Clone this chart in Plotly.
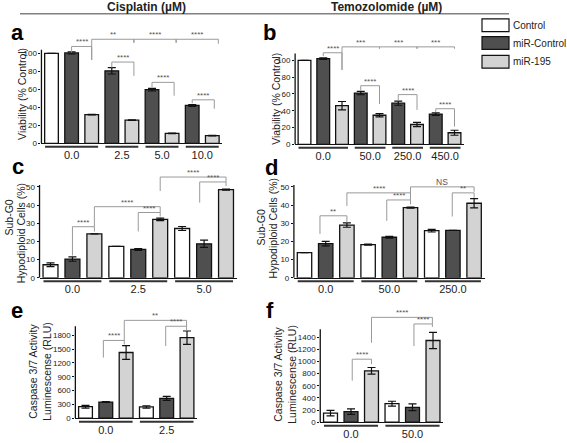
import plotly.graph_objects as go

W, H = 567, 443
FONT = "Liberation Sans, Arial, Helvetica, sans-serif"

series_names = ["Control", "miR-Control", "miR-195"]
series_colors = ["#ffffff", "#4f4f4f", "#d3d3d3"]

# ---------------- data ----------------
a_groups = ["0.0", "2.5", "5.0", "10.0"]
a_control = [100.0, None, None, None]
a_control_err = [0.0, None, None, None]
a_mirc = [100.5, 80.6, 59.7, 42.2]
a_mirc_err = [1.2, 3.5, 1.5, 1.0]
a_mir195 = [32.0, 25.8, 11.2, 8.5]
a_mir195_err = [0.3, 0.4, 0.3, 0.3]
a_yticks = [0, 20, 40, 60, 80, 100]

b_groups = ["0.0", "50.0", "250.0", "450.0"]
b_control = [100.0, None, None, None]
b_control_err = [0.0, None, None, None]
b_mirc = [102.0, 61.0, 49.0, 36.0]
b_mirc_err = [1.0, 2.0, 2.5, 1.5]
b_mir195 = [46.0, 34.6, 23.6, 13.8]
b_mir195_err = [5.0, 2.0, 2.5, 3.0]
b_yticks = [0, 20, 40, 60, 80, 100]

c_groups = ["0.0", "2.5", "5.0"]
c_control = [7.2, 17.3, 27.1]
c_control_err = [1.0, 0.0, 1.1]
c_mirc = [10.3, 15.6, 18.7]
c_mirc_err = [1.2, 0.5, 2.0]
c_mir195 = [24.2, 32.1, 48.5]
c_mir195_err = [0.0, 0.7, 0.3]
c_yticks = [0, 10, 20, 30, 40, 50]

d_groups = ["0.0", "50.0", "250.0"]
d_control = [13.9, 18.3, 25.9]
d_control_err = [0.0, 0.3, 0.7]
d_mirc = [18.8, 22.3, 26.1]
d_mirc_err = [1.2, 0.5, 0.0]
d_mir195 = [29.0, 38.6, 41.0]
d_mir195_err = [1.2, 0.3, 2.5]
d_yticks = [0, 10, 20, 30, 40, 50]

e_groups = ["0.0", "2.5"]
e_control = [250.0, 245.0]
e_control_err = [30.0, 25.0]
e_mirc = [350.0, 430.0]
e_mirc_err = [8.0, 45.0]
e_mir195 = [1425.0, 1745.0]
e_mir195_err = [150.0, 145.0]
e_yticks = [0, 300, 600, 900, 1200, 1500, 1800]

f_groups = ["0.0", "50.0"]
f_control = [150.0, 305.0]
f_control_err = [45.0, 40.0]
f_mirc = [175.0, 245.0]
f_mirc_err = [45.0, 55.0]
f_mir195 = [845.0, 1345.0]
f_mir195_err = [55.0, 135.0]
f_yticks = [0, 200, 400, 600, 800, 1000, 1200, 1400]

# significance brackets: (x_left, x_right, y_line, y_left_end, y_right_end, label)
a_brackets = [
    (1, 2, 107.7, 100.8, 92.6, "****"),
    (2, 4.1, 115.7, 92.6, 111.8, "**"),
    (4.1, 6.2, 115.7, 111.8, 111.8, "****"),
    (6.2, 8.3, 115.7, 111.8, 110.7, "****"),
    (3, 4.1, 90.4, 84.3, 75.0, "****"),
    (5, 6.1, 67.8, 62.5, 53.0, "****"),
    (7, 8.1, 48.4, 44.5, 38.5, "****"),
]
b_brackets = [
    (1, 2, 109.0, 105.0, 88.6, "****"),
    (2, 4, 116.0, 88.6, 113.8, "***"),
    (4, 6, 116.0, 113.8, 113.8, "***"),
    (6, 8, 116.0, 113.8, 113.8, "***"),
    (3, 4, 69.8, 63.9, 48.0, "****"),
    (5, 6, 59.2, 52.0, 41.0, "****"),
    (7, 8, 42.4, 38.5, 21.0, "****"),
]
c_brackets = [
    (1, 2, 28.1, 12.3, 25.4, "****"),
    (4, 5, 35.9, 25.5, 33.7, "****"),
    (2, 5, 39.1, 28.1, 35.9, "****"),
    (6.8, 8, 52.7, 41.3, 50.4, "****"),
    (5, 8, 55.4, 47.7, 52.7, "****"),
]
d_brackets = [
    (0.73, 2, 34.1, 24.1, 30.4, "**"),
    (2, 5, 46.7, 39.5, 42.8, "****"),
    (3.88, 5, 42.8, 31.3, 40.4, "****"),
    (5, 8, 50.0, 42.8, 47.3, "NS"),
    (6.97, 8, 46.7, 33.7, 44.0, "**"),
]
e_brackets = [
    (0.88, 1.91, 1686, 1314, 1600, "****"),
    (3.95, 4.98, 1993, 1564, 1900, "****"),
    (1.91, 4.98, 2121, 1686, 1993, "**"),
]
f_brackets = [
    (1.06, 2.0, 1037, 684, 955, "****"),
    (4.07, 4.97, 1617, 1253, 1568, "****"),
    (2.0, 4.97, 1726, 1307, 1617, "****"),
]

# ---------------- layout helpers ----------------
def PX(p):
    return p / W


def PY(p):
    return 1 - p / H


panels = [
    dict(letter="a", groups=a_groups, vals=[a_control, a_mirc, a_mir195],
         errs=[a_control_err, a_mirc_err, a_mir195_err], yticks=a_yticks, brackets=a_brackets,
         geom=dict(c0=51.5, s=20.1, y0=145, ref=(100, 54), top=30, axis_top=104),
         letter_pos=(17.5, 32.5),
         titles=[("Viability (% Control)", 22, 95)]),
    dict(letter="b", groups=b_groups, vals=[b_control, b_mirc, b_mir195],
         errs=[b_control_err, b_mirc_err, b_mir195_err], yticks=b_yticks, brackets=b_brackets,
         geom=dict(c0=304.5, s=18.75, y0=146, ref=(100, 61), top=37, axis_top=108),
         letter_pos=(269, 33),
         titles=[("Viability (% Control)", 276, 100)]),
    dict(letter="c", groups=c_groups, vals=[c_control, c_mirc, c_mir195],
         errs=[c_control_err, c_mirc_err, c_mir195_err], yticks=c_yticks, brackets=c_brackets,
         geom=dict(c0=50.5, s=21.94, y0=281, ref=(50, 189), top=168, axis_top=51),
         letter_pos=(17.5, 168),
         titles=[("Sub-G0", 9, 220), ("Hypodiploid Cells (%)", 21, 236)]),
    dict(letter="d", groups=d_groups, vals=[d_control, d_mirc, d_mir195],
         errs=[d_control_err, d_mirc_err, d_mir195_err], yticks=d_yticks, brackets=d_brackets,
         geom=dict(c0=304.5, s=21.2, y0=281, ref=(50, 189), top=168, axis_top=51),
         letter_pos=(271, 169),
         titles=[("Sub-G0", 261, 230), ("Hypodiploid Cells (%)", 273, 231)]),
    dict(letter="e", groups=e_groups, vals=[e_control, e_mirc, e_mir195],
         errs=[e_control_err, e_mirc_err, e_mir195_err], yticks=e_yticks, brackets=e_brackets,
         geom=dict(c0=85.5, s=20.3, y0=423, ref=(1800, 339), top=312, axis_top=1993),
         letter_pos=(17, 314),
         titles=[("Caspase 3/7 Activity", 33, 376), ("Luminescense (RLU)", 47, 376)]),
    dict(letter="f", groups=f_groups, vals=[f_control, f_mirc, f_mir195],
         errs=[f_control_err, f_mirc_err, f_mir195_err], yticks=f_yticks, brackets=f_brackets,
         geom=dict(c0=330.5, s=20.5, y0=427, ref=(1400, 341), top=305, axis_top=1530),
         letter_pos=(270, 314),
         titles=[("Caspase 3/7 Activity", 278, 379), ("Luminescense (RLU)", 292, 379)]),
]

fig = go.Figure()
shapes = []
annotations = []
layout_axes = {}

BRACKET_COLOR = "#9a9a9a"
TEXT_DARK = "#222222"

for i, p in enumerate(panels):
    sfx = "" if i == 0 else str(i + 1)
    xa, ya = "x" + sfx, "y" + sfx
    g = p["geom"]

    xs = [[], [], []]
    ys = [[], [], []]
    es = [[], [], []]
    centers, spans = [], []
    k = 0
    for gi in range(len(p["groups"])):
        gpos = []
        for si in range(3):
            v = p["vals"][si][gi]
            if v is not None:
                xs[si].append(k)
                ys[si].append(v)
                es[si].append(p["errs"][si][gi])
                gpos.append(k)
                k += 1
        centers.append(sum(gpos) / len(gpos))
        spans.append((min(gpos), max(gpos)))
    n = k

    for si in range(3):
        if not xs[si]:
            continue
        fig.add_trace(go.Bar(
            x=xs[si], y=ys[si], width=0.68, name=series_names[si], showlegend=False,
            marker=dict(color=series_colors[si], line=dict(color="#111111", width=1.3)),
            error_y=dict(type="data", array=es[si], visible=True, color="#111111",
                         thickness=1.2, width=4),
            xaxis=xa, yaxis=ya,
        ))

    ppu = (g["y0"] - g["ref"][1]) / g["ref"][0]
    ytop = (g["y0"] - g["top"]) / ppu
    x_left = g["c0"] - 0.5 * g["s"]
    x_right = g["c0"] + (n - 0.5) * g["s"]

    layout_axes["xaxis" + sfx] = dict(
        domain=[PX(x_left), PX(x_right)], range=[-0.5, n - 0.5], anchor=ya,
        showline=True, linecolor="#111111", linewidth=1.3, showgrid=False, zeroline=False,
        tickvals=centers, ticktext=p["groups"], ticks="outside", ticklen=1,
        tickcolor="rgba(0,0,0,0)", ticklabeloverflow="allow",
        tickfont=dict(size=11, color=TEXT_DARK, family=FONT), fixedrange=True,
    )
    layout_axes["yaxis" + sfx] = dict(
        domain=[PY(g["y0"]), PY(g["top"])], range=[0, ytop], anchor=xa,
        showline=False, showgrid=False, zeroline=False,
        tickvals=p["yticks"], ticktext=[str(v) for v in p["yticks"]],
        ticks="outside", ticklen=2, tickwidth=1, tickcolor="#111111",
        ticklabeloverflow="allow",
        tickfont=dict(size=8, color="#222222", family=FONT),
        fixedrange=True,
    )
    # y axis line (only up to the top of the scale)
    shapes.append(dict(type="line", xref=xa + " domain", yref=ya, x0=0, x1=0,
                       y0=0, y1=g["axis_top"], line=dict(color="#111111", width=1.3)))
    # group underlines
    for (lo, hi) in spans:
        shapes.append(dict(type="line", xref=xa, yref="paper", x0=lo - 0.32, x1=hi + 0.32,
                           y0=PY(g["y0"] + 3.5), y1=PY(g["y0"] + 3.5),
                           line=dict(color="#333333", width=2)))
    # brackets
    for (x1, x2, yl, yle, yre, lab) in p["brackets"]:
        shapes.append(dict(type="path", xref=xa, yref=ya,
                           path=f"M {x1},{yle} L {x1},{yl} L {x2},{yl} L {x2},{yre}",
                           line=dict(color=BRACKET_COLOR, width=1)))
        annotations.append(dict(xref=xa, yref=ya, x=(x1 + x2) / 2, y=yl, text=lab,
                                showarrow=False, xanchor="center", yanchor="bottom", yshift=-2,
                                font=dict(size=8 if lab != "NS" else 8.5,
                                          color="#555555", family=FONT)))
    # axis titles
    for (t, tx, ty) in p["titles"]:
        annotations.append(dict(xref="paper", yref="paper", x=PX(tx), y=PY(ty), text=t,
                                textangle=-90, showarrow=False, xanchor="center",
                                yanchor="middle",
                                font=dict(size=10.5, color=TEXT_DARK, family=FONT)))
    # panel letter
    lx, ly = p["letter_pos"]
    annotations.append(dict(xref="paper", yref="paper", x=PX(lx), y=PY(ly),
                            text="<b>" + p["letter"] + "</b>", showarrow=False,
                            xanchor="center", yanchor="middle",
                            font=dict(size=22, color="#000000", family=FONT)))

# header
shapes.append(dict(type="line", xref="paper", yref="paper", x0=PX(20), x1=PX(509),
                   y0=PY(14), y1=PY(14), line=dict(color="#808080", width=1.5)))
annotations.append(dict(xref="paper", yref="paper", x=PX(146), y=PY(7.5),
                        text="<b>Cisplatin (µM)</b>", showarrow=False,
                        xanchor="center", yanchor="middle",
                        font=dict(size=12, color=TEXT_DARK, family=FONT)))
annotations.append(dict(xref="paper", yref="paper", x=PX(386), y=PY(7.5),
                        text="<b>Temozolomide (µM)</b>", showarrow=False,
                        xanchor="center", yanchor="middle",
                        font=dict(size=12, color=TEXT_DARK, family=FONT)))

# legend
legend_rows = [25.5, 43.5, 62.5]
for name, col, cy in zip(series_names, series_colors, legend_rows):
    shapes.append(dict(type="rect", xref="paper", yref="paper", x0=PX(482), x1=PX(509),
                       y0=PY(cy + 6.5), y1=PY(cy - 6.5), fillcolor=col,
                       line=dict(color="#111111", width=1.2)))
    annotations.append(dict(xref="paper", yref="paper", x=PX(511), y=PY(cy), text=name,
                            showarrow=False, xanchor="left", yanchor="middle",
                            font=dict(size=10, color=TEXT_DARK, family=FONT)))

fig.update_layout(
    width=W, height=H, margin=dict(l=0, r=0, t=0, b=0),
    paper_bgcolor="white", plot_bgcolor="rgba(0,0,0,0)",
    barmode="overlay", showlegend=False,
    font=dict(family=FONT),
    shapes=shapes, annotations=annotations,
    **layout_axes,
)

fig.write_html(
    "out.html",
    config={"displayModeBar": False},
    post_script="document.body.style.margin='0';document.body.style.overflow='hidden';",
)
